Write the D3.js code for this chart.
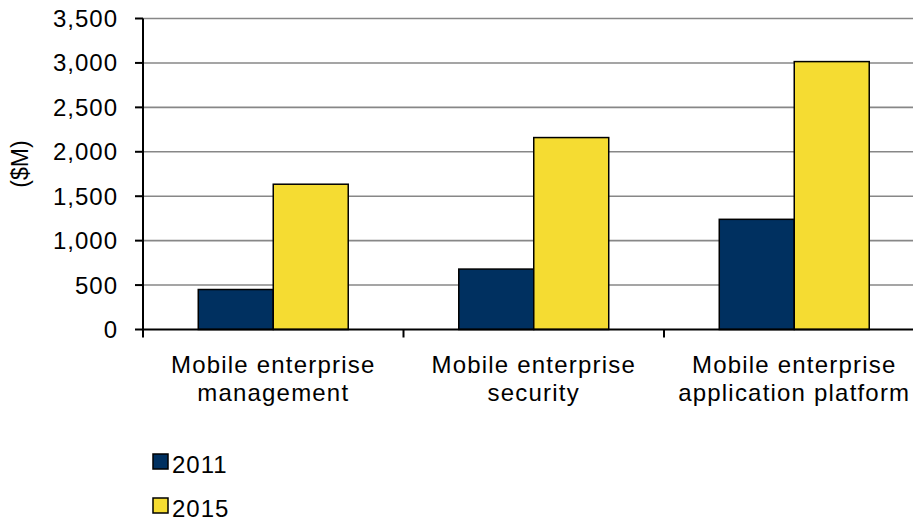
<!DOCTYPE html>
<html>
<head>
<meta charset="utf-8">
<script src="https://cdn.jsdelivr.net/npm/d3@7"></script>
<style>
  body { margin: 0; background: #fff; }
  text { font-family: "Liberation Sans", Arial, sans-serif; fill: #000; }
  .grid line { stroke: #878787; stroke-width: 1.6; }
  .tick-label { font-size: 24px; letter-spacing: 1px; }
  .cat-label { font-size: 24px; letter-spacing: 1.2px; }
</style>
</head>
<body>
<div id="chart"></div>
<script>
const categories = [
  ["Mobile enterprise", "management"],
  ["Mobile enterprise", "security"],
  ["Mobile enterprise", "application platform"]
];
const seriesNames = ["2011", "2015"];
const values2011 = [450, 680, 1240];
const values2015 = [1635, 2160, 3015];
const yTicks = [0, 500, 1000, 1500, 2000, 2500, 3000, 3500];
const colors = ["#003060", "#F5DC32"];

const width = 913, height = 521;
const margin = { left: 143, top: 18.5, bottom: 329.5 };

const svg = d3.select("#chart").append("svg")
  .attr("width", width)
  .attr("height", height);

const y = d3.scaleLinear().domain([0, 3500]).range([margin.bottom, margin.top]);
const x0 = d3.scaleBand().domain(d3.range(categories.length)).range([margin.left, 924.5]).padding(0);
const x1 = d3.scaleBand().domain(seriesNames).range([0, x0.bandwidth()]).paddingInner(0).paddingOuter(0.737);

const seriesValues = [values2011, values2015];

// gridlines
svg.append("g").attr("class", "grid")
  .selectAll("line").data(yTicks.filter(d => d > 0)).join("line")
  .attr("x1", margin.left).attr("x2", width)
  .attr("y1", d => y(d)).attr("y2", d => y(d));

// bars
categories.forEach((c, i) => {
  const g = svg.append("g").attr("transform", `translate(${x0(i)},0)`);
  seriesNames.forEach((s, j) => {
    const v = seriesValues[j][i];
    g.append("rect")
      .attr("x", x1(s))
      .attr("y", y(v))
      .attr("width", x1.bandwidth())
      .attr("height", y(0) - y(v))
      .attr("fill", colors[j])
      .attr("stroke", "#000")
      .attr("stroke-width", 1.5);
  });
});

// y axis
const yAxis = svg.append("g");
yAxis.append("line")
  .attr("x1", margin.left).attr("x2", margin.left)
  .attr("y1", y(3500)).attr("y2", y(0) + 7)
  .attr("stroke", "#000").attr("stroke-width", 2);
yAxis.selectAll(".yt").data(yTicks).join("line")
  .attr("x1", margin.left - 8).attr("x2", margin.left)
  .attr("y1", d => y(d)).attr("y2", d => y(d))
  .attr("stroke", "#000").attr("stroke-width", 2);
yAxis.selectAll(".tick-label").data(yTicks).join("text")
  .attr("class", "tick-label")
  .attr("x", 118)
  .attr("y", d => y(d) + 8.5)
  .attr("text-anchor", "end")
  .text(d => d3.format(",")(d));

svg.append("text")
  .attr("transform", "translate(28,164) rotate(-90)")
  .attr("text-anchor", "middle")
  .style("font-size", "23px")
  .text("($M)");

// x axis
svg.append("line")
  .attr("x1", margin.left).attr("x2", width)
  .attr("y1", y(0)).attr("y2", y(0))
  .attr("stroke", "#000").attr("stroke-width", 2);
svg.selectAll(".xt").data(d3.range(categories.length + 1)).join("line")
  .attr("x1", d => margin.left + d * x0.step()).attr("x2", d => margin.left + d * x0.step())
  .attr("y1", y(0)).attr("y2", y(0) + 8)
  .attr("stroke", "#000").attr("stroke-width", 2);

categories.forEach((c, i) => {
  const t = svg.append("text")
    .attr("class", "cat-label")
    .attr("text-anchor", "middle");
  c.forEach((line, k) => {
    t.append("tspan")
      .attr("x", x0(i) + x0.bandwidth() / 2)
      .attr("y", 373 + k * 27.5)
      .text(line);
  });
});

// legend
const legend = svg.append("g");
seriesNames.forEach((s, j) => {
  const ly = 454 + j * 44;
  legend.append("rect")
    .attr("x", 153).attr("y", ly)
    .attr("width", 15).attr("height", 15)
    .attr("fill", colors[j])
    .attr("stroke", "#000").attr("stroke-width", 1.5);
  legend.append("text")
    .attr("class", "tick-label")
    .attr("x", 172).attr("y", ly + 19)
    .text(s);
});
</script>
</body>
</html>
